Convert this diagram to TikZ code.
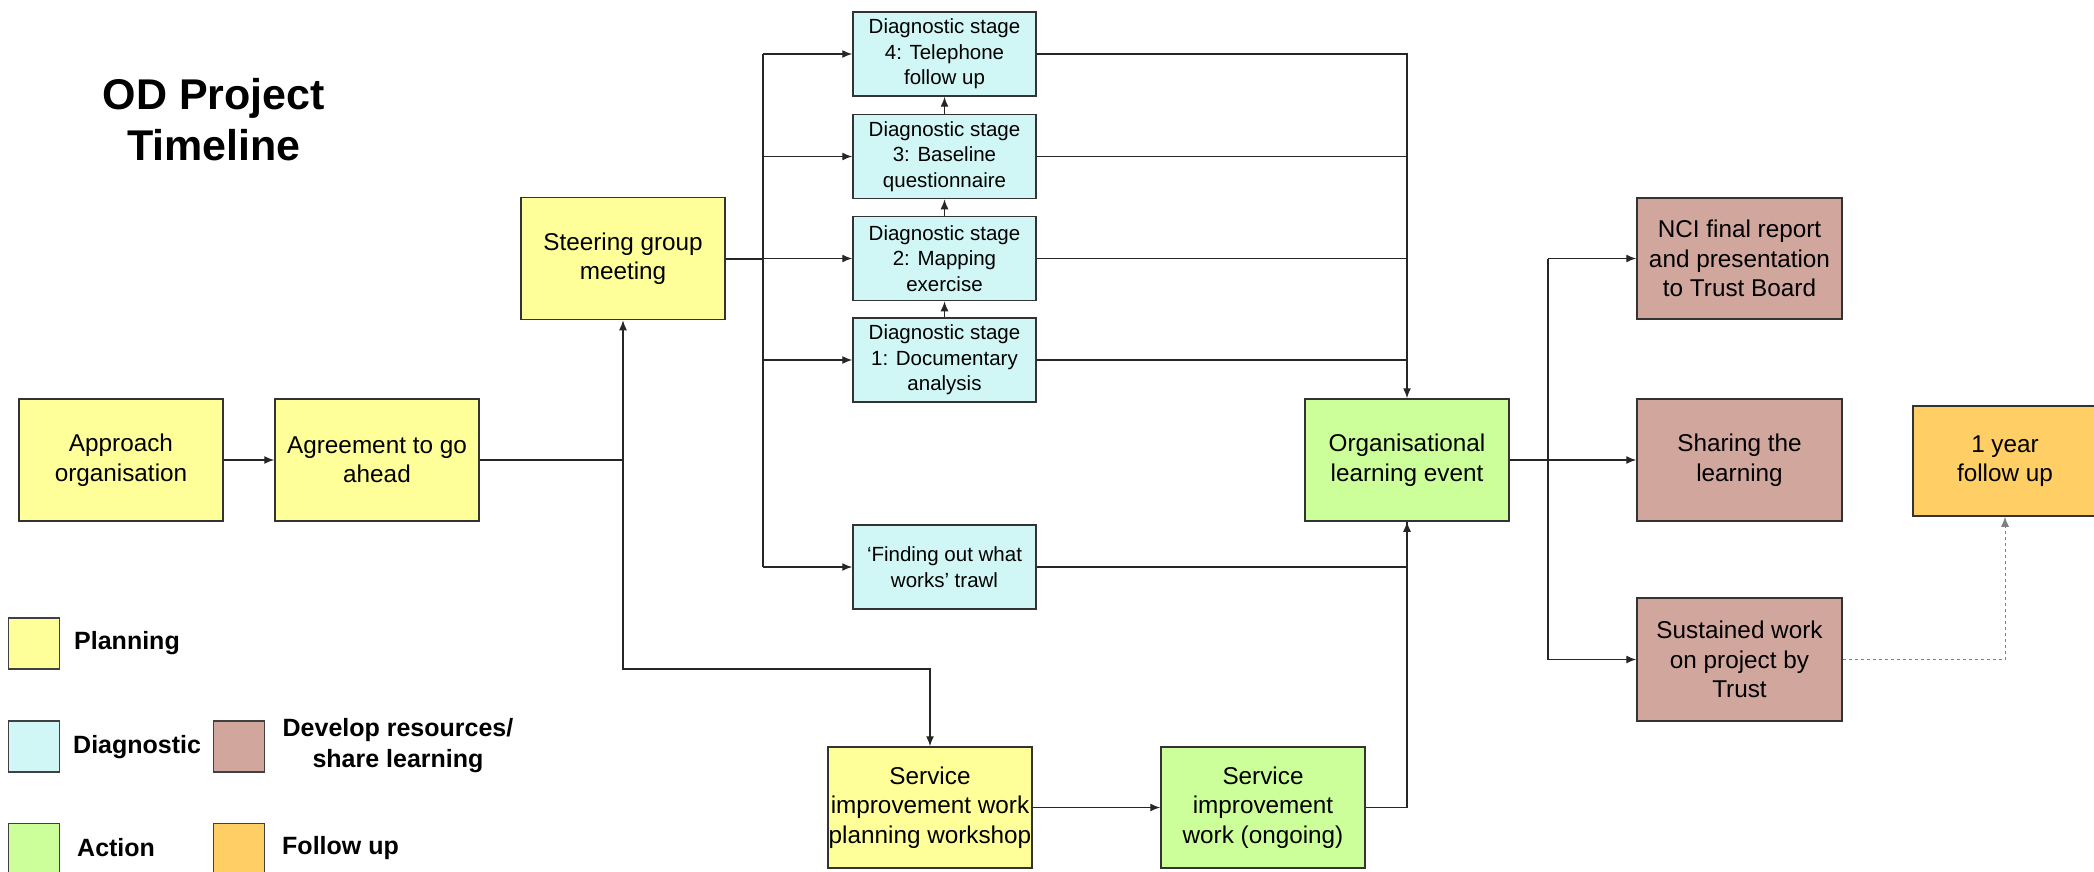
\documentclass[tikz,border=0pt]{standalone}
\usepackage{fontspec}
\setmainfont{Liberation Sans}
\usetikzlibrary{arrows.meta}
\definecolor{planc}{HTML}{FFFF99}
\definecolor{diagc}{HTML}{D0F7F5}
\definecolor{actc}{HTML}{CCFF99}
\definecolor{devc}{HTML}{D1A69D}
\definecolor{folc}{HTML}{FFCF66}
\begin{document}
\begin{tikzpicture}[x=1pt,y=-1pt,
  box/.style={draw=black!80,line width=1.5pt,inner sep=0pt,align=center,font=\fontsize{24.3}{29.5}\selectfont},
  bigbox/.style={box,minimum width=204pt,minimum height=122pt},
  dbox/.style={box,fill=diagc,minimum width=183pt,minimum height=84pt,font=\fontsize{20.5}{25.5}\selectfont},
  conn/.style={line width=1.4pt,black!85},
  arr/.style={conn,-{Latex[length=10pt,width=8pt]}},
  legtxt/.style={font=\bfseries\fontsize{25}{31}\selectfont,inner sep=0pt,align=center},
  swatch/.style={draw=black!75,line width=1.5pt,minimum width=51pt,minimum height=51pt,inner sep=0pt}]
\useasboundingbox[fill=white] (0,0) rectangle (2094,872);

% title
\node[font=\bfseries\fontsize{43}{51}\selectfont,align=center,inner sep=0pt] (title) at (214,120) {OD Project\\Timeline};

% boxes
\node[bigbox,fill=planc] (approach) at (121,460) {Approach\\organisation};
\node[bigbox,fill=planc] (agree) at (377,460) {Agreement to go\\ahead};
\node[bigbox,fill=planc] (steer) at (623,258.5) {Steering group\\meeting};
\node[dbox] (ds4) at (944.5,54) {Diagnostic stage\\4: Telephone\\follow up};
\node[dbox] (ds3) at (944.5,156.5) {Diagnostic stage\\3: Baseline\\questionnaire};
\node[dbox] (ds2) at (944.5,258.5) {Diagnostic stage\\2: Mapping\\exercise};
\node[dbox] (ds1) at (944.5,360) {Diagnostic stage\\1: Documentary\\analysis};
\node[dbox] (find) at (944.5,567) {`Finding out what\\works' trawl};
\node[bigbox,fill=planc,minimum height=121pt] (workshop) at (930,807.5) {Service\\improvement work\\planning workshop};
\node[bigbox,fill=actc,minimum height=121pt] (ongoing) at (1263,807.5) {Service\\improvement\\work (ongoing)};
\node[bigbox,fill=actc] (ole) at (1407,460) {Organisational\\learning event};
\node[bigbox,fill=devc,minimum width=205pt,minimum height=121pt] (nci) at (1739.5,258.5) {NCI final report\\and presentation\\to Trust Board};
\node[bigbox,fill=devc,minimum width=205pt] (share) at (1739.5,460) {Sharing the\\learning};
\node[bigbox,fill=devc,minimum width=205pt,minimum height=123pt] (sustain) at (1739.5,659.5) {Sustained work\\on project by\\Trust};
\node[bigbox,fill=folc,minimum width=184pt,minimum height=110pt] (yr) at (2005,461) {1 year\\follow up};

% connectors left
\draw[arr] (approach) -- (agree);
\coordinate (j1) at (623,460);
\coordinate (j2) at (623,669);
\draw[conn] (agree.east) -- (j1);
\draw[arr] (j1) -- (steer.south);
\draw[arr] (j1) -- (j2) -| (workshop.north);

% steering bus
\coordinate (b1) at (763,258.5);
\coordinate (bt) at (763,54);
\coordinate (bb) at (763,567);
\draw[conn,line width=2pt] (steer.east) -- (b1);
\draw[conn] (bt) -- (bb);
\draw[arr] (bt) -- (ds4.west);
\draw[arr] (ds3.west -| bt) -- (ds3.west);
\draw[arr] (b1) -- (ds2.west);
\draw[arr] (ds1.west -| bt) -- (ds1.west);
\draw[arr] (bb) -- (find.west);

% diagnostic chain
\draw[arr] (ds1.north) -- (ds2.south);
\draw[arr] (ds2.north) -- (ds3.south);
\draw[arr] (ds3.north) -- (ds4.south);

% to OLE
\draw[arr] (ds4.east) -| (ole.north);
\draw[conn] (ds3.east) -- (ds3.east -| ole.north);
\draw[conn] (ds2.east) -- (ds2.east -| ole.north);
\draw[conn] (ds1.east) -- (ds1.east -| ole.north);
\draw[arr] (find.east) -| (ole.south);
\draw[conn] (ongoing.east) -| (ole.south);
\draw[arr] (workshop) -- (ongoing);

% OLE out
\coordinate (r1) at (1548,460);
\draw[conn] (ole.east) -- (r1);
\draw[arr] (r1) -- (share.west);
\draw[conn] (r1 |- nci.west) -- (r1 |- sustain.west);
\draw[arr] (r1 |- nci.west) -- (nci.west);
\draw[arr] (r1 |- sustain.west) -- (sustain.west);
\draw[dashed,gray,line width=1pt,-{Latex[length=10pt,width=8pt]}] (sustain.east) -| (yr.south);

% legend
\node[swatch,fill=planc] (lp) at (34,643.5) {};
\node[swatch,fill=diagc] (ld) at (34,746.5) {};
\node[swatch,fill=actc] (la) at (34,849) {};
\node[swatch,fill=devc] (lr) at (239,746.5) {};
\node[swatch,fill=folc] (lf) at (239,849) {};
\node[legtxt,anchor=west] (tp) at (74,643) {Planning};
\node[legtxt,anchor=west] (td) at (73,747) {Diagnostic};
\node[legtxt,anchor=west] (ta) at (77,848) {Action};
\node[legtxt] (tr) at (398,746) {Develop resources/\\share learning};
\node[legtxt,anchor=west] (tf) at (282,848) {Follow up};
\end{tikzpicture}
\end{document}
